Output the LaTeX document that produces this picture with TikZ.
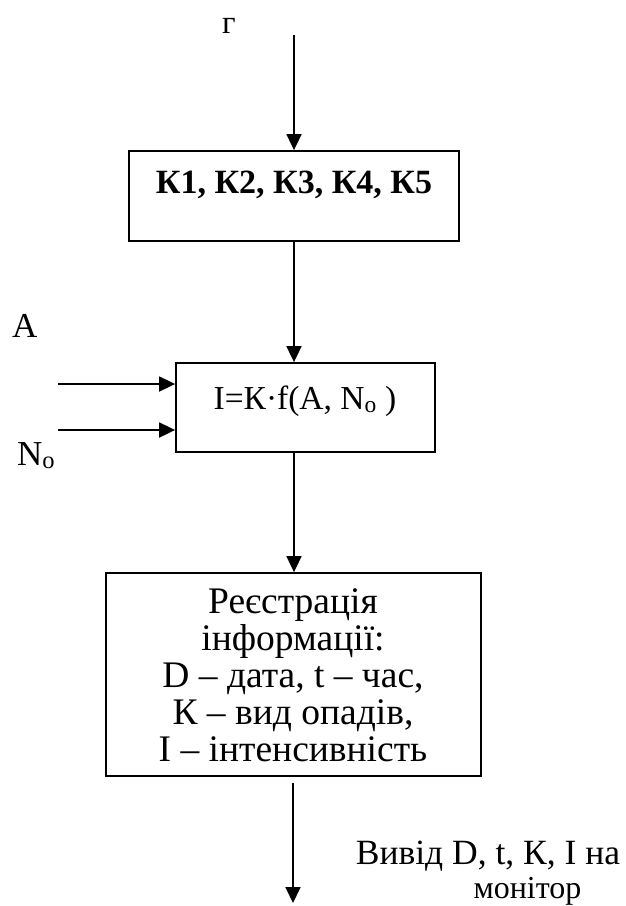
\documentclass[tikz,border=0pt]{standalone}
\usepackage{fontspec}
\setmainfont{Liberation Serif}
\usetikzlibrary{arrows.meta}

\begin{document}
\begin{tikzpicture}[x=1pt,y=-1pt,
    box/.style={draw, line width=1.8pt, inner sep=0pt},
    txt/.style={inner sep=0pt, font=\fontsize{33}{37}\selectfont},
    bigtxt/.style={inner sep=0pt, font=\fontsize{37.5}{37}\selectfont},
    flow/.style={line width=1.8pt, -{Triangle[length=16pt,width=15pt]}}]
  \useasboundingbox (0,0) rectangle (626,906);

  % blocks
  \node[box, minimum width=330pt, minimum height=90pt] (kbox) at (294,196) {};
  \node[box, minimum width=259pt, minimum height=89pt] (fbox) at (305.5,407.5) {};
  \node[box, minimum width=375pt, minimum height=203pt] (rbox) at (293.5,674.5) {};

  % block texts
  \node[txt, anchor=base, font=\fontsize{34}{37}\selectfont] (ktext) at (294,193)
    {\textbf{К1, К2, К3, К4, К5}};
  \node[txt, anchor=base, font=\fontsize{33.5}{37}\selectfont] (ftext) at (305,409)
    {I=К·f(A, N\textsubscript{o} )};
  \node[bigtxt, align=center] (rtext) at (293,675)
    {Реєстрація\\інформації:\\D – дата, t – час,\\К – вид опадів,\\I – інтенсивність};

  % inputs and outputs
  \node[txt, anchor=base] (g) at (229,33) {г};
  \node[txt, anchor=base west, font=\fontsize{35}{37}\selectfont] (a) at (12,337) {A};
  \node[txt, anchor=base west, font=\fontsize{35}{37}\selectfont] (n) at (17,465) {N\textsubscript{o}};
  \node[txt, anchor=base, font=\fontsize{35.5}{37}\selectfont] (out1) at (488,864)
    {Вивід D, t, К, I на};
  \node[txt, anchor=base, font=\fontsize{32}{37}\selectfont] (out2) at (527.5,898)
    {монітор};

  \coordinate (gstart) at (294,35);
  \coordinate (astart) at (58,384);
  \coordinate (nstart) at (58,430);
  \coordinate (ostart) at (293,783);
  \coordinate (oend) at (293,903);

  % connectors
  \draw[flow] (gstart) -- (gstart |- kbox.north);
  \draw[flow] (kbox.south) -- (kbox.south |- fbox.north);
  \draw[flow] (astart) -- (astart -| fbox.west);
  \draw[flow] (nstart) -- (nstart -| fbox.west);
  \draw[flow] (kbox.south |- fbox.south) -- (kbox.south |- rbox.north);
  \draw[flow] (ostart) -- (oend);
\end{tikzpicture}
\end{document}
